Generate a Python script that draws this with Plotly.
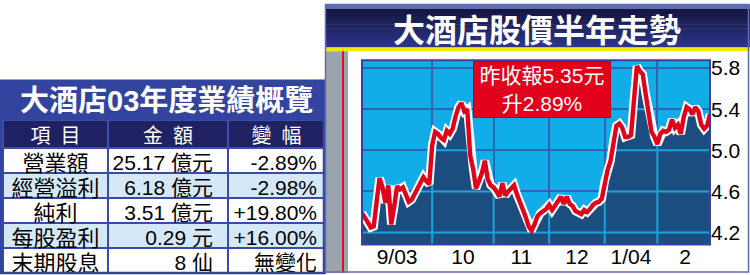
import plotly.graph_objects as go

W, H = 750, 275

# ---------------- data ----------------
table_title = "大酒店03年度業績概覽"
col_headers = ["項\u2002目", "金\u2002額", "變\u2002幅"]
items = ["營業額", "經營溢利", "純利", "每股盈利", "末期股息"]
amounts = ["25.17 億元", "6.18 億元", "3.51 億元", "0.29 元", "8 仙"]
changes = ["-2.89%", "-2.98%", "+19.80%", "+16.00%", "無變化"]

chart_title = "大酒店股價半年走勢"
month_labels = ["9/03", "10", "11", "12", "1/04", "2"]
month_start_idx = [0, 24, 45, 64, 83, 101]
prices = [
    4.39, 4.35, 4.30, 4.25, 4.26, 4.50, 4.73, 4.64, 4.49, 4.66,
    4.28, 4.45, 4.65, 4.62, 4.64, 4.57, 4.50, 4.52, 4.58, 4.63,
    4.70, 4.74, 4.70, 4.67, 5.05, 5.18, 5.16, 5.12, 5.10, 5.19,
    5.16, 5.21, 5.33, 5.42, 5.46, 5.38, 5.40, 4.95, 4.82, 4.63,
    4.70, 4.78, 4.90, 4.72, 4.66, 4.64, 4.60, 4.55, 4.68, 4.56,
    4.60, 4.63, 4.66, 4.57, 4.50, 4.44, 4.35, 4.26, 4.22, 4.28,
    4.36, 4.39, 4.41, 4.43, 4.47, 4.42, 4.46, 4.50, 4.55, 4.48,
    4.55, 4.48, 4.46, 4.41, 4.40, 4.38, 4.42, 4.40, 4.43, 4.47,
    4.49, 4.50, 4.53, 4.70, 4.81, 4.90, 5.10, 5.24, 5.26, 5.22,
    5.13, 5.13, 5.15, 5.50, 5.82, 5.77, 5.74, 5.55, 5.38, 5.18,
    5.13, 5.06, 5.16, 5.19, 5.18, 5.20, 5.30, 5.22, 5.25, 5.16,
    5.32, 5.42, 5.40, 5.35, 5.42, 5.38, 5.25, 5.21, 5.24, 5.35,
]
y_ticks = [4.2, 4.6, 5.0, 5.4, 5.8]
y_range = [4.085, 5.877]
close_text = "昨收報5.35元"
change_text = "升2.89%"

# ---------------- styles ----------------
SKY = "#10ade8"
NAVY = "#1b4e7f"
GRID_DARK = "#3064b0"
GRID_LIGHT = "#1fa2dc"
RED = "#e3001b"
FONT = "Liberation Sans, Noto Sans CJK TC, sans-serif"


def px(x):
    return x / W


def py(y):
    return 1 - y / H


xs = list(range(len(prices)))
x_range = [0, len(prices) - 1]
n_months = len(month_start_idx)
month_ends = month_start_idx[1:] + [len(prices)]
label_pos = [(month_start_idx[i] + month_ends[i]) / 2 for i in range(n_months)]
boundaries = month_start_idx[1:]

# grid segments that fall inside the dark (filled) area
gx, gy = [], []
for lev in y_ticks:
    run_start = None
    for i in range(len(prices) - 1):
        y0, y1 = prices[i], prices[i + 1]
        a0, a1 = y0 >= lev, y1 >= lev
        if a0 and run_start is None:
            run_start = xs[i]
        if a0 != a1:
            xc = xs[i] + (lev - y0) / (y1 - y0) * (xs[i + 1] - xs[i])
            if a0:
                gx += [run_start, xc, None]
                gy += [lev, lev, None]
                run_start = None
            else:
                run_start = xc
    if run_start is not None:
        gx += [run_start, xs[-1], None]
        gy += [lev, lev, None]
for b in boundaries:
    gx += [b, b, None]
    gy += [y_range[0], prices[b], None]

fig = go.Figure()

# area fill
fig.add_trace(go.Scatter(x=xs, y=prices, mode="lines", fill="tozeroy",
                         fillcolor=NAVY, line=dict(width=0, color=NAVY),
                         hoverinfo="skip", showlegend=False))
# light grid inside dark area
fig.add_trace(go.Scatter(x=gx, y=gy, mode="lines", line=dict(width=2, color=GRID_LIGHT),
                         hoverinfo="skip", showlegend=False, connectgaps=False))
# white outline + red line
fig.add_trace(go.Scatter(x=xs, y=prices, mode="lines",
                         line=dict(width=8.5, color="white"),
                         hoverinfo="skip", showlegend=False))
fig.add_trace(go.Scatter(x=xs, y=prices, mode="lines",
                         line=dict(width=4.4, color=RED),
                         hoverinfo="skip", showlegend=False))

# table: background grid/fills + header text
row_colors = ["white", "#d4e8f7", "white", "#d4e8f7", "white"]
NB = "\u00a0"
n_rows = len(items)
fig.add_trace(go.Table(
    domain=dict(x=[px(3), px(325)], y=[0, py(118)]),
    columnwidth=[105, 120, 97],
    header=dict(values=col_headers, fill_color="#1f2163", height=28,
                line=dict(color="#3f4fab", width=2),
                font=dict(family=FONT, size=20, color="white"),
                align="center"),
    cells=dict(values=[[""] * n_rows] * 3,
               fill_color=[row_colors, row_colors, row_colors],
               height=25,
               line=dict(color="#3a4aa8", width=2),
               font=dict(family=FONT, size=21, color="black")),
))
# table: cell texts (transparent, slightly raised)
fig.add_trace(go.Table(
    domain=dict(x=[px(3), px(325)], y=[0, py(118)]),
    columnwidth=[105, 113, 104],
    header=dict(values=["", "", ""], fill_color="rgba(0,0,0,0)", height=26,
                line=dict(width=0, color="rgba(0,0,0,0)"),
                font=dict(family=FONT, size=10, color="white")),
    cells=dict(values=[items, [a.replace(" ", NB) for a in amounts], changes],
               fill_color="rgba(0,0,0,0)",
               height=25,
               line=dict(width=0, color="rgba(0,0,0,0)"),
               font=dict(family=FONT, size=[22, 21, 21], color="black"),
               align=["center", "right", "right"]),
))

shapes = []
# left title band
shapes.append(dict(type="rect", xref="paper", yref="paper", x0=px(0), x1=px(325),
                   y0=py(118), y1=py(78), fillcolor="#33449e", line=dict(width=0)))
shapes.append(dict(type="rect", xref="paper", yref="paper", x0=px(1.2), x1=px(324),
                   y0=py(273), y1=py(78), line=dict(color="#3344a0", width=2.5)))
# right header
shapes.append(dict(type="rect", xref="paper", yref="paper", x0=px(325), x1=px(750),
                   y0=py(5), y1=py(0), fillcolor="#626bb4", line=dict(width=0)))
c0 = (0x14, 0x17, 0x40)
c1 = (0x2d, 0x34, 0x88)
nstrip = 10
for k in range(nstrip):
    t = k / (nstrip - 1)
    col = "rgb(%d,%d,%d)" % tuple(round(c0[j] + (c1[j] - c0[j]) * t) for j in range(3))
    ya = 5 + 39 * k / nstrip
    yb = 5 + 39 * (k + 1) / nstrip
    shapes.append(dict(type="rect", xref="paper", yref="paper", x0=px(325), x1=px(750),
                       y0=py(yb + 0.5), y1=py(ya), fillcolor=col, line=dict(width=0)))
shapes.append(dict(type="rect", xref="paper", yref="paper", x0=px(325), x1=px(750),
                   y0=py(48), y1=py(44), fillcolor="#f2ea00", line=dict(width=0)))
# grey strip with red line
shapes.append(dict(type="rect", xref="paper", yref="paper", x0=px(325), x1=px(348),
                   y0=py(273), y1=py(48), fillcolor="#9ba4ac", line=dict(width=0)))
shapes.append(dict(type="line", xref="paper", yref="paper", x0=px(343), x1=px(343),
                   y0=py(273), y1=py(48), line=dict(color="#e0101a", width=2)))
# right panel border
shapes.append(dict(type="rect", xref="paper", yref="paper", x0=px(325.5), x1=px(748.5),
                   y0=py(272), y1=py(0.5), line=dict(color="#5f6db4", width=1.5)))
# plot frame
shapes.append(dict(type="rect", xref="x domain", yref="y domain", x0=0, x1=1, y0=0, y1=1,
                   line=dict(color="#3b3f9e", width=2), layer="above"))

annotations = [
    dict(text=table_title, x=px(166), y=py(98), xref="paper", yref="paper",
         showarrow=False, xanchor="center", yanchor="middle",
         font=dict(family=FONT, size=29, color="white", weight=700)),
    dict(text=chart_title, x=px(537), y=py(27), xref="paper", yref="paper",
         showarrow=False, xanchor="center", yanchor="middle",
         font=dict(family=FONT, size=32, color="white", weight=700)),
    dict(text=close_text + "<br>" + change_text, x=px(542), y=py(57.5),
         xref="paper", yref="paper", showarrow=False, xanchor="center", yanchor="top",
         align="center", bgcolor=RED, bordercolor="#b5001a", borderwidth=1,
         borderpad=1, width=134, height=53,
         font=dict(family=FONT, size=21, color="white")),
]

fig.update_layout(
    width=W, height=H, autosize=False,
    margin=dict(l=0, r=0, t=0, b=0, pad=0),
    paper_bgcolor="white", plot_bgcolor=SKY,
    shapes=shapes, annotations=annotations,
    xaxis=dict(domain=[px(362), px(710)], range=x_range,
               anchor="free", position=py(242),
               tickmode="array", tickvals=label_pos, ticktext=month_labels,
               showgrid=False, zeroline=False, ticks="", showline=False,
               tickfont=dict(family=FONT, size=21, color="black"),
               minor=dict(tickmode="array", tickvals=boundaries, showgrid=True,
                          gridcolor=GRID_DARK, gridwidth=2, ticks="")),
    yaxis=dict(domain=[py(244), py(57)], range=y_range, side="right",
               tickmode="array", tickvals=y_ticks,
               ticktext=["%.1f" % v for v in y_ticks],
               showgrid=True, gridcolor=GRID_DARK, gridwidth=2, zeroline=False,
               ticks="", tickfont=dict(family=FONT, size=21, color="black"),
               showline=False),
)

fig.write_html("out.html")
